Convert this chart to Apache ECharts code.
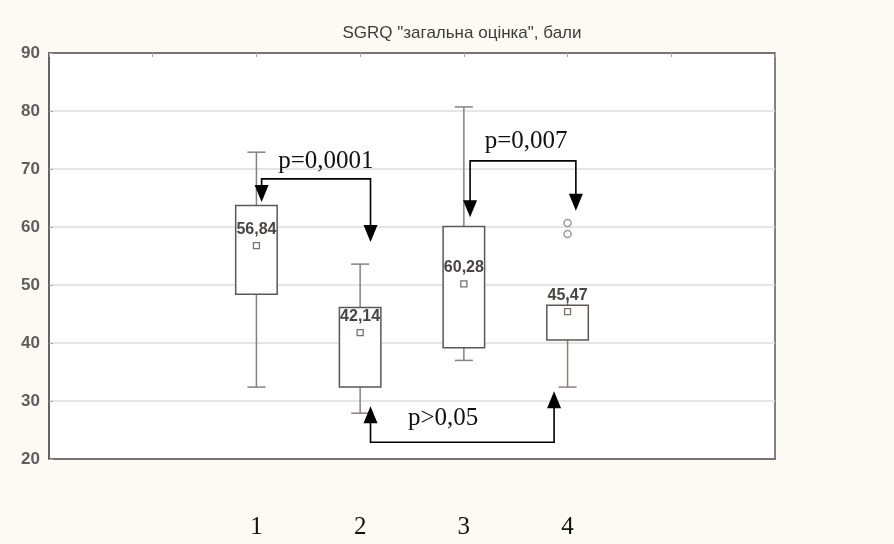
<!DOCTYPE html>
<html><head><meta charset="utf-8">
<script src="https://cdn.jsdelivr.net/npm/echarts@6/dist/echarts.min.js"></script>
<style>html,body{margin:0;padding:0;background:#fcfaf2;}#c{width:894px;height:544px;}</style>
</head><body><div id="c"></div>
<script>
// ---- data ----
const title = 'SGRQ "загальна оцінка", бали';
const categories = ['1', '2', '3', '4'];
const xPositions = [2, 3, 4, 5];
const whiskerLow = [32.4, 27.9, 37.0, 32.4];
const boxLow = [48.4, 32.4, 39.2, 40.5];
const boxHigh = [63.7, 46.1, 60.1, 46.5];
const whiskerHigh = [72.9, 53.6, 80.7, 48.0];
const means = [56.8, 41.8, 50.2, 45.4];
const meanLabels = ['56,84', '42,14', '60,28', '45,47'];
const outliers = [[5, 60.7], [5, 58.8]];
// comparisons: label, from x, to x, bracket y, tip y at start, tip y at end
const compLabels = ['p=0,0001', 'p=0,007', 'p>0,05'];
const compFromX = [2.05, 4.06, 3.1];
const compToX = [3.1, 5.08, 4.87];
const compBarY = [68.3, 71.4, 22.9];
const compTipFrom = [64.3, 61.7, 29.1];
const compTipTo = [57.4, 62.8, 31.7];
const compLabelX = [2.67, 4.6, 3.8];
const compLabelY = [71.3, 74.8, 27.0];

const chart = echarts.init(document.getElementById('c'));
const labelMap = {};
xPositions.forEach((x, i) => labelMap[x] = categories[i]);

const boxColor = '#5e5656';
const whiskColor = '#8a7f7f';

function renderBox(params, api) {
  const x = api.value(0);
  const w = api.size([1, 0])[0] * 0.4;
  const wl = api.coord([x, api.value(1)]);
  const bl = api.coord([x, api.value(2)]);
  const bh = api.coord([x, api.value(3)]);
  const wh = api.coord([x, api.value(4)]);
  const mn = api.coord([x, api.value(5)]);
  const cap = 9;
  const ls = {stroke: whiskColor, lineWidth: 1.5};
  const children = [
    {type: 'line', shape: {x1: wl[0], y1: wl[1], x2: bl[0], y2: bl[1]}, style: ls},
    {type: 'line', shape: {x1: wl[0] - cap, y1: wl[1], x2: wl[0] + cap, y2: wl[1]}, style: ls},
    {type: 'line', shape: {x1: bh[0], y1: bh[1], x2: wh[0], y2: wh[1]}, style: ls},
    {type: 'rect', shape: {x: bh[0] - w / 2, y: bh[1], width: w, height: bl[1] - bh[1]},
      style: {fill: '#fff', stroke: boxColor, lineWidth: 1.5}},
    {type: 'rect', shape: {x: mn[0] - 3, y: mn[1] - 3, width: 6, height: 6},
      style: {fill: '#fff', stroke: '#7a7070', lineWidth: 1.3}},
    {type: 'text', x: mn[0], y: mn[1] - 16,
      style: {text: meanLabels[params.dataIndex], fill: '#4a4444', font: 'bold 16px "Liberation Sans", Arial',
        align: 'center', verticalAlign: 'middle'}}
  ];
  if (params.dataIndex !== 3) {
    children.splice(2, 0, {type: 'line', shape: {x1: wh[0] - cap, y1: wh[1], x2: wh[0] + cap, y2: wh[1]}, style: ls});
  }
  return {type: 'group', children};
}

function arrowHead(tip, dirDown) {
  const hw = 7, hl = 17;
  const s = dirDown ? -1 : 1;
  return {type: 'polygon', shape: {points: [[tip[0], tip[1]], [tip[0] - hw, tip[1] + s * hl], [tip[0] + hw, tip[1] + s * hl]]},
    style: {fill: '#000'}};
}

function renderComp(params, api) {
  const i = params.dataIndex;
  const x1 = api.value(0), x2 = api.value(1), yb = api.value(2), t1 = api.value(3), t2 = api.value(4);
  const pA = api.coord([x1, t1]);
  const pB = api.coord([x1, yb]);
  const pC = api.coord([x2, yb]);
  const pD = api.coord([x2, t2]);
  const down = t1 < yb;
  const s = down ? -1 : 1;
  const lab = api.coord([api.value(5), api.value(6)]);
  return {type: 'group', children: [
    {type: 'polyline', shape: {points: [[pA[0], pA[1] + s * 10], pB, pC, [pD[0], pD[1] + s * 10]]},
      style: {stroke: '#000', lineWidth: 1.6, fill: null}},
    arrowHead(pA, down),
    arrowHead(pD, down),
    {type: 'text', x: lab[0], y: lab[1],
      style: {text: compLabels[i], fill: '#111', font: '25px "Liberation Serif", "Times New Roman", serif',
        align: 'center', verticalAlign: 'middle'}}
  ]};
}

const option = {
  backgroundColor: '#fcfaf2',
  animation: false,
  title: {text: title, left: 457, top: 20, textAlign: 'center',
    textStyle: {fontFamily: '"Liberation Sans", Arial', fontSize: 17, fontWeight: 'normal', color: '#3c3c3c'}},
  grid: {left: 49, right: 119, top: 53, bottom: 85, show: true, backgroundColor: '#ffffff',
    borderColor: '#5a5a5a', borderWidth: 1.5},
  xAxis: [{
    type: 'value', min: 0, max: 7, interval: 1, position: 'bottom',
    axisLine: {show: true, lineStyle: {color: '#5a5a5a', width: 1.5}},
    axisTick: {show: false}, splitLine: {show: false},
    axisLabel: {margin: 56, formatter: v => labelMap[v] || '', color: '#111',
      fontFamily: '"Liberation Serif", "Times New Roman", serif', fontSize: 25}
  }, {
    type: 'value', min: 0, max: 7, interval: 1, position: 'top',
    axisLine: {show: true, lineStyle: {color: '#5a5a5a', width: 1.5}},
    axisTick: {show: true, inside: true, length: 4, lineStyle: {color: '#aaa'}},
    axisLabel: {show: false}, splitLine: {show: false}
  }],
  yAxis: {
    type: 'value', min: 20, max: 90, interval: 10,
    axisLine: {show: true, lineStyle: {color: '#5a5a5a', width: 1.5}},
    axisTick: {show: true, inside: true, length: 4, lineStyle: {color: '#aaa'}},
    splitLine: {show: true, lineStyle: {color: '#dcdcdc', width: 1.5}},
    axisLabel: {margin: 9, color: '#5e5e5e', fontFamily: '"Liberation Sans", Arial', fontSize: 17, fontWeight: 'bold'}
  },
  series: [
    {type: 'custom', renderItem: renderBox, z: 3,
      data: xPositions.map((x, i) => [x, whiskerLow[i], boxLow[i], boxHigh[i], whiskerHigh[i], means[i]])},
    {type: 'scatter', data: outliers, symbol: 'circle', symbolSize: 7, z: 3,
      itemStyle: {color: '#fff', borderColor: '#8a7f7f', borderWidth: 1.5}},
    {type: 'custom', renderItem: renderComp, z: 5, clip: false,
      data: compLabels.map((l, i) => [compFromX[i], compToX[i], compBarY[i], compTipFrom[i], compTipTo[i], compLabelX[i], compLabelY[i]])}
  ]
};
chart.setOption(option);
</script></body></html>
